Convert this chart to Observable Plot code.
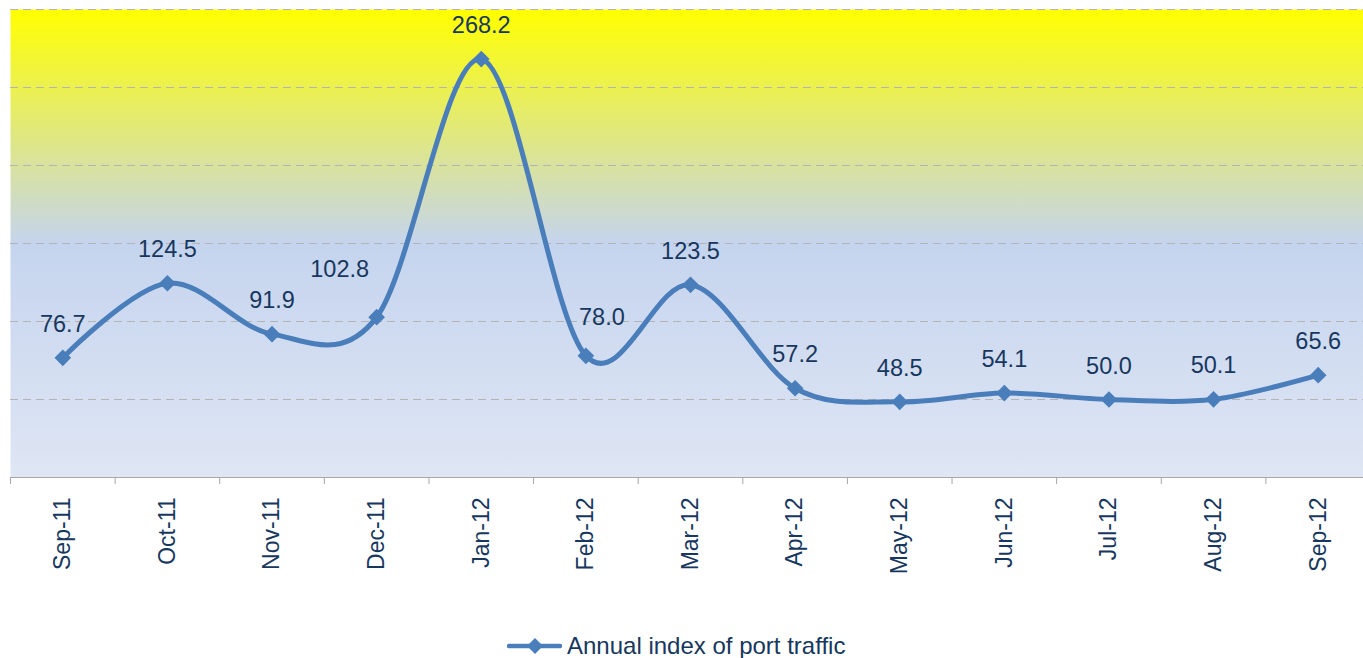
<!DOCTYPE html>
<html><head><meta charset="utf-8">
<script src="https://cdn.jsdelivr.net/npm/d3@7"></script>
<script src="https://cdn.jsdelivr.net/npm/@observablehq/plot@0.6"></script>
<style>
html,body{margin:0;padding:0;overflow:hidden;background:#fff;}
#legend{position:absolute;left:507px;top:632px;height:28px;display:flex;align-items:center;font-family:"Liberation Sans",Arial,sans-serif;font-size:24px;line-height:28px;color:#17375e;white-space:nowrap;}
#legend svg{margin-right:5px;}
</style></head><body>
<div id="chart"></div>
<div id="legend"></div>
<script>
const months = ["Sep-11","Oct-11","Nov-11","Dec-11","Jan-12","Feb-12","Mar-12","Apr-12","May-12","Jun-12","Jul-12","Aug-12","Sep-12"];
const values = [76.7,124.5,91.9,102.8,268.2,78.0,123.5,57.2,48.5,54.1,50.0,50.1,65.6];
const yTicks = [0,50,100,150,200,250,300];
const seriesName = "Annual index of port traffic";

const navy = "#17375e", blue = "#4a7ebb", font = "'Liberation Sans', Arial, sans-serif";
const data = months.map((m, i) => ({i, month: m, value: values[i]}));
const boundaries = d3.range(months.length + 1).map(k => k - 0.5);
const labelNudge = {"Dec-11": {dx: -37, dy: -40}, "Feb-12": {dx: 16, dy: -31}};
const textOpts = {x: "i", y: "value", text: d => d.value.toFixed(1), fill: navy, fontSize: 23.5, lineAnchor: "bottom", textAnchor: "middle"};

const chart = Plot.plot({
  width: 1370, height: 600,
  marginTop: 9, marginBottom: 123, marginLeft: 10, marginRight: 0,
  style: {fontFamily: font, maxWidth: "none", background: "white", overflow: "visible"},
  x: {type: "linear", domain: [-0.5, months.length - 0.5], label: null},
  y: {domain: d3.extent(yTicks), axis: null, label: null},
  marks: [
    Plot.frame({fill: "url(#bgGrad)", stroke: "none"}),
    Plot.gridY(yTicks.filter(v => v > 0), {stroke: "#b4b4b4", strokeOpacity: 1, strokeDasharray: "8,5"}),
    Plot.ruleY([0], {stroke: "#a6a6a6"}),
    Plot.axisX(boundaries, {tickSize: 7, tickFormat: () => "", stroke: "#a6a6a6", strokeOpacity: 1, label: null}),
    Plot.axisX(d3.range(months.length), {tickSize: 0, tickPadding: 20, tickRotate: -90, tickFormat: i => months[i], fontSize: 23, fill: navy, fontFamily: font, label: null}),
    Plot.line(data, {x: "i", y: "value", stroke: blue, strokeWidth: 5, curve: "cardinal", tension: 0, strokeLinejoin: "round", strokeLinecap: "round"}),
    Plot.dot(data, {x: "i", y: "value", symbol: "diamond2", r: 7.5, fill: blue, stroke: "none"}),
    Plot.text(data.filter(d => !labelNudge[d.month]), {...textOpts, dy: -26}),
    ...Object.entries(labelNudge).map(([m, o]) => Plot.text(data.filter(d => d.month === m), {...textOpts, dx: o.dx, dy: o.dy}))
  ]
});

const defs = d3.select(chart).insert("defs", ":first-child");
const grad = defs.append("linearGradient").attr("id", "bgGrad").attr("x1", 0).attr("y1", 0).attr("x2", 0).attr("y2", 1);
grad.append("stop").attr("offset", "0%").attr("stop-color", "#ffff00");
grad.append("stop").attr("offset", "50%").attr("stop-color", "#c5d4ee");
grad.append("stop").attr("offset", "100%").attr("stop-color", "#dfe6f4");

document.getElementById("chart").appendChild(chart);

const legend = document.getElementById("legend");
legend.innerHTML = `<svg width="55" height="20" viewBox="0 0 55 20"><line x1="2" y1="10" x2="53" y2="10" stroke="${blue}" stroke-width="4.5" stroke-linecap="round"/><path d="M28,2 L36,10 L28,18 L20,10 Z" fill="${blue}"/></svg><span></span>`;
legend.querySelector("span").textContent = seriesName;
</script>
</body></html>
